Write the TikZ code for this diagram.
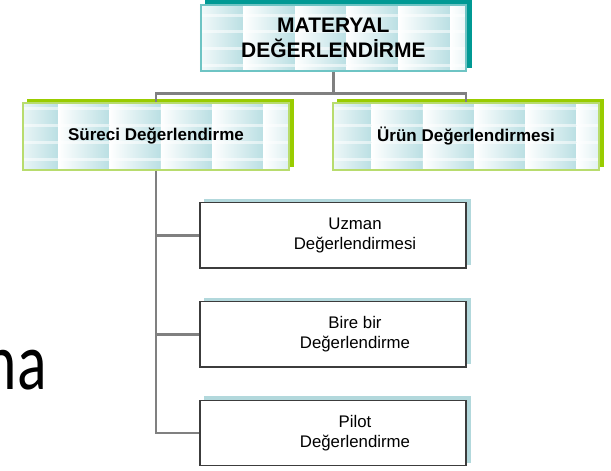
\documentclass[tikz,border=0pt]{standalone}
\usepackage{fontspec}
\setmainfont{Liberation Sans}
\newfontfamily\nafont{Carlito}
\usetikzlibrary{backgrounds}
\definecolor{tilecol}{RGB}{186,223,227}
\definecolor{topborder}{RGB}{110,196,196}
\definecolor{topshadow}{RGB}{0,153,148}
\definecolor{grnborder}{RGB}{184,220,110}
\definecolor{grnshadow}{RGB}{153,204,0}
\definecolor{lowshadow}{RGB}{178,216,220}
\definecolor{conncol}{RGB}{128,128,128}
\definecolor{lowborder}{RGB}{60,60,60}
\newcommand\tilefill[5]{%
  \begin{scope}
    \clip (#1.south west) rectangle (#1.north east);
    \fill[white] (#1.south west) rectangle (#1.north east);
    \foreach \i in {0,...,6}{\foreach \j in {0,...,5}{
      \pgfmathsetmacro\xa{#2+\i*#4}
      \pgfmathsetmacro\ya{#3+\j*#5}
      \shade[left color=white,right color=tilecol] (\xa,\ya) rectangle ++(#4,#5);
      \fill[white,opacity=0.55] (\xa,{\ya-1.5}) rectangle ++(#4,3);
    }}
  \end{scope}}
\newcommand\dropshadow[3]{%
  \fill[#2] ([shift={(#3)}]#1.south west) rectangle ([shift={(#3)}]#1.north east);}
\tikzset{
  conn/.style={draw=conncol,line width=2.5pt},
  topbox/.style={draw=topborder,line width=1.6pt,minimum width=265.3pt,minimum height=66pt,
    inner sep=0pt,align=center,font=\fontsize{21}{24.4}\selectfont\bfseries},
  midbox/.style={draw=grnborder,line width=1.6pt,minimum width=266pt,minimum height=67pt,
    inner sep=0pt,align=center,font=\fontsize{17}{20}\selectfont\bfseries},
  lowbox/.style={draw=lowborder,line width=1.2pt,fill=white,minimum width=266pt,minimum height=65.3pt,inner sep=0pt},
  lowtext/.style={inner sep=0pt,align=center,font=\fontsize{16.8}{20}\selectfont},
}
\begin{document}
\begin{tikzpicture}[x=1pt,y=-1pt]
\useasboundingbox (0,0) rectangle (611,471);
% background word fragment
\node[font=\nafont\fontsize{81}{81}\selectfont,anchor=base east,inner sep=0pt] (na) at (47,389) {\scalebox{0.76}[1]{na}};
% boxes
\node[topbox] (top) at (333.35,38) {MATERYAL\\DEĞERLENDİRME};
\node[midbox] (surec) at (156,136.5) {Süreci Değerlendirme};
\node[midbox] (urun) at (466,136.5) {Ürün Değerlendirmesi};
\node[lowbox] (uzman) at (333,235.35) {};
\node[lowbox] (bire) at (333,334.35) {};
\node[lowbox] (pilot) at (333,433) {};
\node[lowtext] (uzman-t) at ([xshift=22pt]uzman.center) {Uzman\\Değerlendirmesi};
\node[lowtext] (bire-t) at ([xshift=22pt]bire.center) {Bire bir\\Değerlendirme};
\node[lowtext] (pilot-t) at ([xshift=22pt]pilot.center) {Pilot\\Değerlendirme};
\begin{scope}[on background layer]
  \dropshadow{top}{topshadow}{5pt,4pt}
  \dropshadow{surec}{grnshadow}{4.5pt,3.5pt}
  \dropshadow{urun}{grnshadow}{4.5pt,3.5pt}
  \dropshadow{uzman}{lowshadow}{4.7pt,3.5pt}
  \dropshadow{bire}{lowshadow}{4.7pt,3.5pt}
  \dropshadow{pilot}{lowshadow}{4.7pt,3.5pt}
  \tilefill{top}{191.6}{-1.7}{51.7}{16.7}
  \tilefill{surec}{7}{91}{51.25}{17.2}
  \tilefill{urun}{320.4}{91}{51.25}{17.2}
\end{scope}
% connectors
\coordinate (bus) at (333.35,93.3);
\draw[conn] (top.south) -- (bus);
\draw[conn] (surec.north) |- (bus) -| (urun.north);
\draw[conn] (surec.south) |- (pilot.west);
\draw[conn] (surec.south) |- (uzman.west);
\draw[conn] (surec.south) |- (bire.west);
\end{tikzpicture}
\end{document}
